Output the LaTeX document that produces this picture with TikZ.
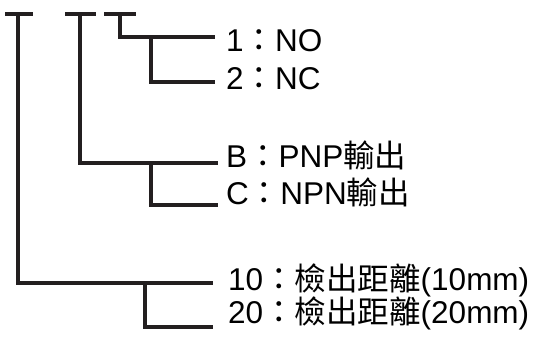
\documentclass[tikz,border=0pt]{standalone}
\usepackage{fontspec}
\setmainfont{Liberation Sans}
\newfontfamily\cjk{Noto Sans CJK TC}
\usetikzlibrary{positioning}
\definecolor{ink}{HTML}{231F20}

\begin{document}
\begin{tikzpicture}[x=1pt,y=-1pt,
                    wire/.style={line width=3.2pt,draw=ink},
                    lbl/.style={anchor=base west,inner sep=0pt,text=black,
                                font=\fontsize{31.5}{37}\selectfont}]
    \useasboundingbox (0,0) rectangle (539,341);
    % code digits
    \coordinate (d1) at (18,14);
    \coordinate (d2) at (80,14);
    \coordinate (d3) at (120,14);
    \draw[wire] ([xshift=-13pt]d1) -- ([xshift=15pt]d1);
    \draw[wire] ([xshift=-15pt]d2) -- ([xshift=16pt]d2);
    \draw[wire] ([xshift=-16pt]d3) -- ([xshift=16pt]d3);
    % line ends and branch points
    \coordinate (eno) at (215,37);
    \coordinate (enc) at (215,82);
    \coordinate (epnp) at (218,163);
    \coordinate (enpn) at (218,205);
    \coordinate (eten) at (213,283);
    \coordinate (etwenty) at (213,327);
    \coordinate (j1) at (151,37);
    \coordinate (j2) at (151,163);
    \coordinate (j3) at (145,283);
    % labels
    \node[lbl] (no) at (226,51) {1{\cjk ：}NO};
    \node[lbl] (nc) at (226,89) {2{\cjk ：}NC};
    \node[lbl] (pnp) at (226,167) {B{\cjk ：}PNP{\cjk 輸出}};
    \node[lbl] (npn) at (226,204) {C{\cjk ：}NPN{\cjk 輸出}};
    \node[lbl] (ten) at (228,290) {10{\cjk ：檢出距離}(10mm)};
    \node[lbl] (twenty) at (228,323) {20{\cjk ：檢出距離}(20mm)};
    % tree
    \draw[wire] (d3) |- (eno);
    \draw[wire] (j1) |- (enc);
    \draw[wire] (d2) |- (epnp);
    \draw[wire] (j2) |- (enpn);
    \draw[wire] (d1) |- (eten);
    \draw[wire] (j3) |- (etwenty);
\end{tikzpicture}
\end{document}
